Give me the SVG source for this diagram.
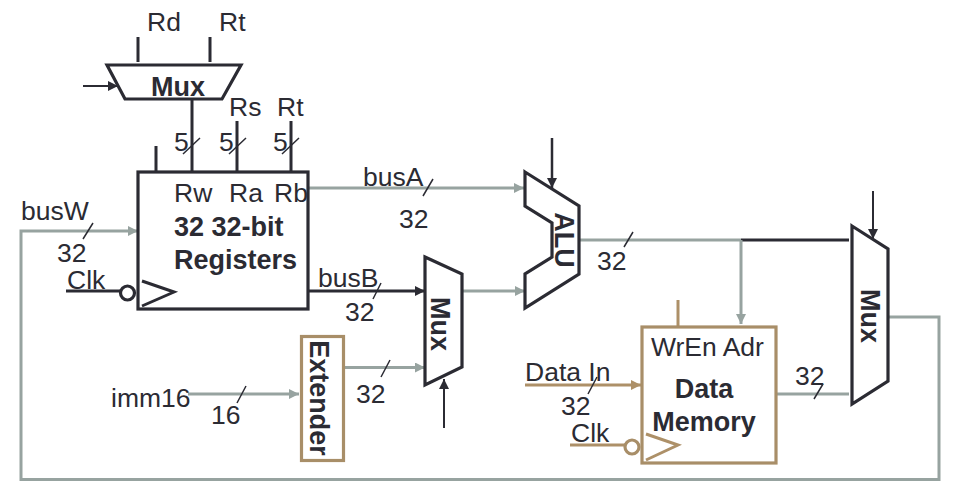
<svg xmlns="http://www.w3.org/2000/svg" width="979" height="499" viewBox="0 0 979 499">
<style>
text{font-family:"Liberation Sans",Arial,sans-serif;font-size:26.500px;fill:#2b2b33}
.b{font-weight:bold;font-size:27px}
.m{text-anchor:middle}
.s{fill:#fff;stroke:#2b2b33;stroke-width:3.2}
.t{fill:#fff;stroke:#a88e68;stroke-width:3.2}
.l{fill:none;stroke-width:3}
.d{stroke:#2b2b33}.g{stroke:#97a3a0}.o{stroke:#ad9068}
.k{fill:none;stroke:#2b2b33;stroke-width:1.500}
</style>
<defs>
<marker id="ad" markerUnits="userSpaceOnUse" markerWidth="12" markerHeight="12" refX="10" refY="5" orient="auto"><path d="M0 0L10 5L0 10z" fill="#2b2b33"/></marker>
<marker id="ag" markerUnits="userSpaceOnUse" markerWidth="12" markerHeight="12" refX="10" refY="5" orient="auto"><path d="M0 0L10 5L0 10z" fill="#97a3a0"/></marker>
<marker id="ao" markerUnits="userSpaceOnUse" markerWidth="12" markerHeight="12" refX="10" refY="5" orient="auto"><path d="M0 0L10 5L0 10z" fill="#ad9068"/></marker>
</defs>
<rect width="979" height="499" fill="#fff"/>
<g id="connectors">
<path class="l d" d="M138 37V62M210 37V62"/>
<path class="l d" style="stroke-width:2" d="M83 86H118" marker-end="url(#ad)"/>
<path class="l d" d="M192 99V172M237 121V172M291 121V172M156 146V172"/>
<path class="l g" d="M308 188H524" marker-end="url(#ag)"/>
<path class="l d" d="M308 291H425" marker-end="url(#ad)"/>
<path class="l g" d="M462 291H525" marker-end="url(#ag)"/>
<path class="l g" d="M344 367.500H425" marker-end="url(#ag)"/>
<path class="l g" d="M188 394H299" marker-end="url(#ag)"/>
<path class="l d" style="stroke-width:2" d="M444 428V379" marker-end="url(#ad)"/>
<path class="l d" style="stroke-width:2.500" d="M552 138V188" marker-end="url(#ad)"/>
<path class="l d" style="stroke-width:2" d="M873 191V239" marker-end="url(#ad)"/>
<path class="l g" d="M579 240H741"/>
<path class="l d" d="M741 240H849"/>
<path class="l g" d="M741 240V324" marker-end="url(#ag)"/>
<path class="l g" d="M776 394H849"/>
<path class="l g" d="M888 317H939V479.500H21V231H138" marker-end="url(#ag)"/>
<path class="l o" d="M678 300V327"/>
<path class="l o" d="M525 385H641" marker-end="url(#ao)"/>
<path class="l o" d="M570 445H625"/>
<path class="l d" d="M66 291H120"/>
<path class="k" d="M183 154L200 138M229 154L246 138M282 154L299 138M83 239L93 223M423 196L433 179M373 299L381 283M381 377L390 360M237 403L246 386M624 247L633 232M814 399L823 384M588 394L597 377"/>
</g>
<g id="mux-top">
<path class="s" d="M107 65H241L222 99H125z"/>
<text class="b m" x="178" y="96">Mux</text>
</g>
<g id="register-file">
<rect class="s" x="138" y="172" width="170" height="137"/>
<text x="174" y="202">Rw</text>
<text x="229" y="202">Ra</text>
<text x="274" y="202">Rb</text>
<text class="b" x="174" y="236">32 32-bit</text>
<text class="b" x="174" y="269">Registers</text>
<path class="l d" d="M142 281L174 292L142 306"/>
<circle class="s" cx="127.500" cy="293" r="7"/>
</g>
<g id="mux-b">
<path class="s" d="M425 257L462 274V367L425 385z"/>
<text class="b m" transform="translate(431 324) rotate(90)">Mux</text>
</g>
<g id="extender">
<rect class="t" x="301.500" y="336.500" width="42" height="124"/>
<text class="b m" transform="translate(310 398) rotate(90)">Extender</text>
</g>
<g id="alu">
<path class="s" d="M525 172L579 206V274L525 308V274L552 257V223L525 206z"/>
<text class="b m" transform="translate(555 240) rotate(90)">ALU</text>
</g>
<g id="data-memory">
<rect class="t" x="642" y="327" width="134" height="136"/>
<text x="651" y="356">WrEn Adr</text>
<text class="b m" x="704" y="398">Data</text>
<text class="b m" x="704" y="431">Memory</text>
<path class="l o" d="M646 434L678 445L646 460"/>
<circle class="t" cx="632" cy="447" r="7"/>
</g>
<g id="mux-out">
<path class="s" d="M852 226L888 249V381L852 404z"/>
<text class="b m" transform="translate(861 316) rotate(90)">Mux</text>
</g>
<g id="labels">
<text x="147" y="31">Rd</text>
<text x="219" y="31">Rt</text>
<text x="229" y="116">Rs</text>
<text x="277" y="116">Rt</text>
<text x="174" y="151">5</text>
<text x="219" y="151">5</text>
<text x="273" y="151">5</text>
<text x="21" y="220">busW</text>
<text x="57" y="262">32</text>
<text x="67" y="289">Clk</text>
<text x="363" y="186">busA</text>
<text x="399" y="228">32</text>
<text x="318" y="287">busB</text>
<text x="345" y="321">32</text>
<text x="356" y="403">32</text>
<text x="111" y="407">imm16</text>
<text x="211" y="424">16</text>
<text x="597" y="270">32</text>
<text x="525" y="381">Data In</text>
<text x="561" y="415">32</text>
<text x="571" y="442">Clk</text>
<text x="795" y="385">32</text>
</g>
</svg>
